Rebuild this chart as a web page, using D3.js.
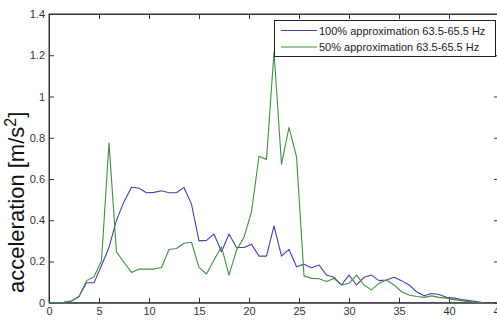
<!DOCTYPE html>
<html><head><meta charset="utf-8">
<script src="https://cdn.jsdelivr.net/npm/d3@7"></script>
<style>
html,body{margin:0;padding:0;background:#fff;}
svg{display:block;font-family:Arial,"Liberation Sans",sans-serif;}
</style></head>
<body>
<svg id="chart" width="497" height="324"></svg>
<script>
const freq = [0,0.75,1.5,2.25,3,3.75,4.5,5.25,6,6.75,7.5,8.25,9,9.75,10.5,11.25,12,12.75,13.5,14.25,15,15.75,16.5,17.25,18,18.75,19.5,20.25,21,21.75,22.5,23.25,24,24.75,25.5,26.25,27,27.75,28.5,29.25,30,30.75,31.5,32.25,33,33.75,34.5,35.25,36,36.75,37.5,38.25,39,39.75,40.5,41.25,42,42.75,43.5];
const full = [0,0,0.002,0.008,0.03,0.097,0.097,0.18,0.268,0.40,0.49,0.56,0.555,0.533,0.535,0.543,0.533,0.533,0.559,0.478,0.30,0.302,0.333,0.247,0.333,0.268,0.268,0.284,0.226,0.226,0.372,0.226,0.259,0.174,0.187,0.170,0.183,0.134,0.123,0.086,0.134,0.086,0.123,0.134,0.107,0.11,0.123,0.107,0.086,0.053,0.034,0.045,0.04,0.026,0.022,0.015,0.01,0.005,0];
const half = [0,0,0.002,0.008,0.03,0.107,0.126,0.203,0.775,0.245,0.196,0.147,0.163,0.163,0.163,0.171,0.258,0.263,0.288,0.293,0.171,0.139,0.207,0.271,0.134,0.255,0.317,0.441,0.71,0.695,1.216,0.672,0.85,0.707,0.13,0.118,0.116,0.103,0.118,0.086,0.094,0.134,0.086,0.062,0.094,0.110,0.086,0.053,0.037,0.030,0.026,0.033,0.026,0.022,0.015,0.010,0.005,0.002,0];
const xTicks = [0,5,10,15,20,25,30,35,40,45];
const yTicks = [0,0.2,0.4,0.6,0.8,1,1.2,1.4];
const yTickLabels = ["0","0.2","0.4","0.6","0.8","1","1.2","1.4"];
const seriesNames = ["100% approximation 63.5-65.5 Hz","50% approximation 63.5-65.5 Hz"];
const seriesColors = ["#4242aa","#458c45"];

const svg = d3.select("#chart");
const L = 49, R = 499, T = 14, B = 302.7;
const x = d3.scaleLinear().domain([0,45]).range([L,R]);
const y = d3.scaleLinear().domain([0,1.4]).range([B,T]);
const axisColor = "#333";

svg.append("rect").attr("x",L).attr("y",T).attr("width",R-L).attr("height",B-T)
  .attr("fill","#fff").attr("stroke",axisColor).attr("stroke-width",1);

function styleAxis(g){
  g.select(".domain").attr("stroke",axisColor);
  g.selectAll(".tick line").attr("stroke",axisColor);
  g.selectAll(".tick text").attr("fill","#333").style("font-size","11px").style("font-family","Arial, 'Liberation Sans', sans-serif");
}
svg.append("g").attr("transform",`translate(0,${B})`)
  .call(d3.axisBottom(x).tickValues(xTicks).tickFormat(d=>String(d)).tickSizeInner(-5).tickSizeOuter(0).tickPadding(5))
  .call(styleAxis);
svg.append("g").attr("transform",`translate(0,${T})`)
  .call(d3.axisTop(x).tickValues(xTicks).tickFormat("").tickSizeInner(-5).tickSizeOuter(0))
  .call(styleAxis);
svg.append("g").attr("transform",`translate(${L},0)`)
  .call(d3.axisLeft(y).tickValues(yTicks).tickFormat((d,i)=>yTickLabels[i]).tickSizeInner(-5).tickSizeOuter(0).tickPadding(4))
  .call(styleAxis);
svg.append("g").attr("transform",`translate(${R},0)`)
  .call(d3.axisRight(y).tickValues(yTicks).tickFormat("").tickSizeInner(-5).tickSizeOuter(0))
  .call(styleAxis);

const line = d3.line().x((d,i)=>x(freq[i])).y(d=>y(d));
[full, half].forEach((s,k)=>{
  svg.append("path").datum(s).attr("d",line).attr("fill","none")
    .attr("stroke",seriesColors[k]).attr("stroke-width",1.1).attr("stroke-linejoin","round");
});

// y label
const yl = svg.append("text").attr("transform","translate(24,293) rotate(-90)")
  .attr("text-anchor","start").attr("fill","#111").style("font-size","22px");
yl.append("tspan").text("acceleration [m/s");
yl.append("tspan").attr("baseline-shift","super").style("font-size","16px").text("2");
yl.append("tspan").text("]");

// legend
const lg = svg.append("g");
lg.append("rect").attr("x",274.5).attr("y",20.5).attr("width",221).attr("height",36)
  .attr("fill","#fff").attr("stroke","#222").attr("stroke-width",1);
seriesNames.forEach((n,k)=>{
  const cy = 30.5 + k*16.5;
  lg.append("line").attr("x1",281).attr("x2",317).attr("y1",cy).attr("y2",cy)
    .attr("stroke",seriesColors[k]).attr("stroke-width",1.1);
  lg.append("text").attr("x",319).attr("y",cy+4).attr("fill","#222").style("font-size","11px").text(n);
});
</script>
</body></html>
